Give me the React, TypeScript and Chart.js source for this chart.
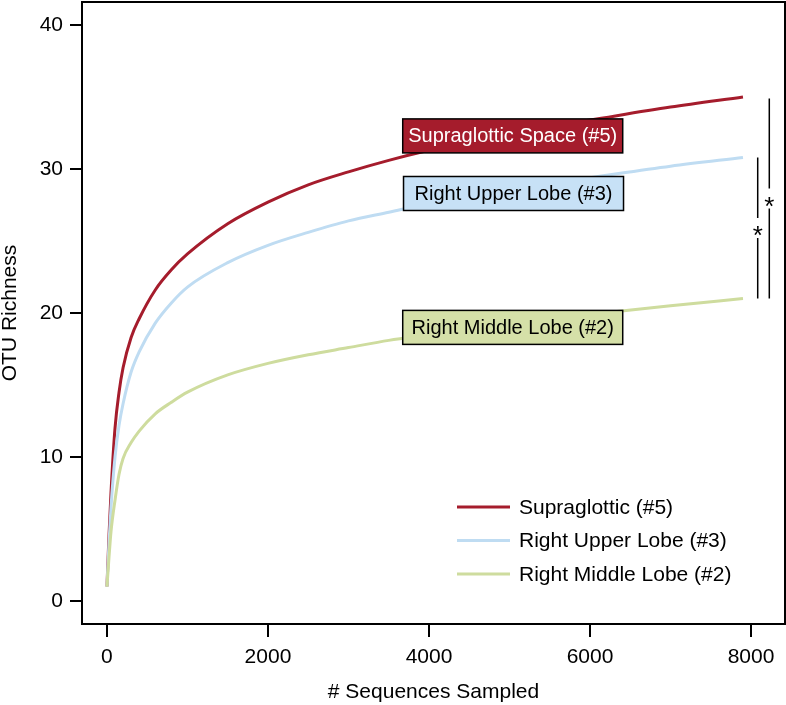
import React, { useEffect, useRef } from "react";
import { Chart, registerables } from "chart.js";

Chart.register(...registerables);

// ---- data ----
const seqs = [0, 25, 50, 100, 150, 200, 300, 400, 600, 800, 1000, 1500, 2000, 2500, 3000, 3500, 4000, 5000, 6000, 7000, 7900];
const supraglottic = [1, 4.5, 7.5, 12.0, 14.5, 16.2, 18.3, 19.6, 21.6, 23.0, 24.1, 26.2, 27.7, 28.9, 29.8, 30.6, 31.3, 32.5, 33.4, 34.3, 35.0];
const rightUpper = [1, 4.0, 6.5, 10.0, 12.2, 13.7, 15.9, 17.3, 19.3, 20.7, 21.8, 23.5, 24.7, 25.6, 26.4, 27.0, 27.6, 28.6, 29.4, 30.2, 30.8];
const rightMiddle = [1, 3.0, 4.8, 7.0, 8.8, 9.9, 11.0, 11.8, 13.0, 13.8, 14.5, 15.7, 16.5, 17.1, 17.6, 18.1, 18.5, 19.3, 19.9, 20.5, 21.0];
const seriesNames = ["Supraglottic (#5)", "Right Upper Lobe (#3)", "Right Middle Lobe (#2)"];
const seriesColors = ["#A51C2C", "#BFDCF2", "#CEDC9E"];

const xTicks = [0, 2000, 4000, 6000, 8000];
const yTicks = [0, 10, 20, 30, 40];

const boxLabels = ["Supraglottic Space (#5)", "Right Upper Lobe (#3)", "Right Middle Lobe (#2)"];
const boxX = [5040, 5050, 5040];
const boxY = [32.3, 28.3, 19.0];
const boxFills = ["#A51C2C", "#C7E1F6", "#D5E0A8"];
const boxTextColors = ["#FFFFFF", "#000000", "#000000"];

const bracketX = [8083, 8227];
const bracketTop = [30.8, 34.9];
const bracketBottom = [21.0, 21.0];
const bracketMarks = ["*", "*"];

const FONT = "'Liberation Sans', Arial, Helvetica, sans-serif";

export default function App() {
  const ref = useRef<HTMLCanvasElement>(null);

  useEffect(() => {
    if (!ref.current) return;
    const seriesValues = [supraglottic, rightUpper, rightMiddle];

    const overlay = {
      id: "overlay",
      afterDraw(chart: any) {
        const ctx = chart.ctx as CanvasRenderingContext2D;
        const ca = chart.chartArea;
        const xs = chart.scales.x;
        const ys = chart.scales.y;
        ctx.save();

        // frame
        ctx.strokeStyle = "#000";
        ctx.lineWidth = 2;
        ctx.strokeRect(ca.left, ca.top, ca.right - ca.left, ca.bottom - ca.top);

        // label boxes
        const bw = 220;
        const bh = 34;
        ctx.font = `20px ${FONT}`;
        ctx.textAlign = "center";
        ctx.textBaseline = "middle";
        boxLabels.forEach((t, i) => {
          const cx = xs.getPixelForValue(boxX[i]);
          const cy = ys.getPixelForValue(boxY[i]);
          ctx.fillStyle = boxFills[i];
          ctx.fillRect(cx - bw / 2, cy - bh / 2, bw, bh);
          ctx.lineWidth = 1.5;
          ctx.strokeStyle = "#000";
          ctx.strokeRect(cx - bw / 2, cy - bh / 2, bw, bh);
          ctx.fillStyle = boxTextColors[i];
          ctx.fillText(t, cx, cy + 1);
        });

        // significance brackets
        ctx.strokeStyle = "#000";
        ctx.lineWidth = 1.5;
        ctx.fillStyle = "#000";
        ctx.font = `26px ${FONT}`;
        ctx.textAlign = "center";
        ctx.textBaseline = "alphabetic";
        bracketX.forEach((bx, i) => {
          const px = xs.getPixelForValue(bx);
          const y1 = ys.getPixelForValue(bracketTop[i]);
          const y2 = ys.getPixelForValue(bracketBottom[i]);
          const mid = (y1 + y2) / 2;
          ctx.beginPath();
          ctx.moveTo(px, y1);
          ctx.lineTo(px, mid - 10);
          ctx.moveTo(px, mid + 10);
          ctx.lineTo(px, y2);
          ctx.stroke();
          ctx.fillText(bracketMarks[i], px, mid + 16);
        });

        // legend
        const lx = ca.right - 328;
        ctx.font = `21px ${FONT}`;
        ctx.textAlign = "left";
        ctx.textBaseline = "middle";
        seriesNames.forEach((n, i) => {
          const ry = ca.bottom - 117 + i * 33.5;
          ctx.strokeStyle = seriesColors[i];
          ctx.lineWidth = 3;
          ctx.beginPath();
          ctx.moveTo(lx, ry);
          ctx.lineTo(lx + 53, ry);
          ctx.stroke();
          ctx.fillStyle = "#000";
          ctx.fillText(n, lx + 62, ry + 1);
        });

        ctx.restore();
      },
    };

    const chart = new Chart(ref.current, {
      type: "line",
      data: {
        datasets: seriesNames
          .map((name, i) => ({
            label: name,
            data: seqs.map((s, j) => ({ x: s, y: seriesValues[i][j] })),
            borderColor: seriesColors[i],
            backgroundColor: seriesColors[i],
            borderWidth: 3,
            pointRadius: 0,
            cubicInterpolationMode: "monotone" as const,
            fill: false,
          }))
          .reverse(),
      },
      options: {
        responsive: false,
        animation: false,
        devicePixelRatio: 1,
        layout: { padding: { top: 2, right: 1, left: 0, bottom: 0 } },
        plugins: { legend: { display: false }, tooltip: { enabled: false } },
        scales: {
          x: {
            type: "linear",
            min: -310,
            max: 8422,
            afterBuildTicks: (s: any) => {
              s.ticks = xTicks.map((v) => ({ value: v }));
            },
            afterFit: (s: any) => {
              s.height = 81;
              s.paddingLeft = 0;
              s.paddingRight = 0;
            },
            grid: { drawOnChartArea: false, drawTicks: true, tickLength: 13, color: "#000", lineWidth: 2 },
            border: { display: false },
            ticks: {
              color: "#000",
              font: { size: 21, family: FONT },
              padding: 8,
              maxRotation: 0,
              autoSkip: false,
              callback: (v: any) => String(v),
            },
            title: {
              display: true,
              text: "# Sequences Sampled",
              color: "#000",
              font: { size: 21, family: FONT },
              padding: { top: 2, bottom: 0 },
            },
          },
          y: {
            type: "linear",
            min: -1.6,
            max: 41.6,
            afterBuildTicks: (s: any) => {
              s.ticks = yTicks.map((v) => ({ value: v }));
            },
            afterFit: (s: any) => {
              s.width = 82;
              s.paddingTop = 0;
              s.paddingBottom = 0;
            },
            grid: { drawOnChartArea: false, drawTicks: true, tickLength: 12, color: "#000", lineWidth: 2 },
            border: { display: false },
            ticks: {
              color: "#000",
              font: { size: 21, family: FONT },
              padding: 7,
              autoSkip: false,
              callback: (v: any) => String(v),
            },
            title: {
              display: true,
              text: "OTU Richness",
              color: "#000",
              font: { size: 21, family: FONT },
              padding: { top: -2, bottom: 0 },
            },
          },
        },
      },
      plugins: [overlay],
    });

    return () => chart.destroy();
  }, []);

  return (
    <div style={{ position: "absolute", left: 0, top: 0, width: 786, height: 705, background: "#fff" }}>
      <canvas ref={ref} width={786} height={705} style={{ display: "block" }} />
    </div>
  );
}
